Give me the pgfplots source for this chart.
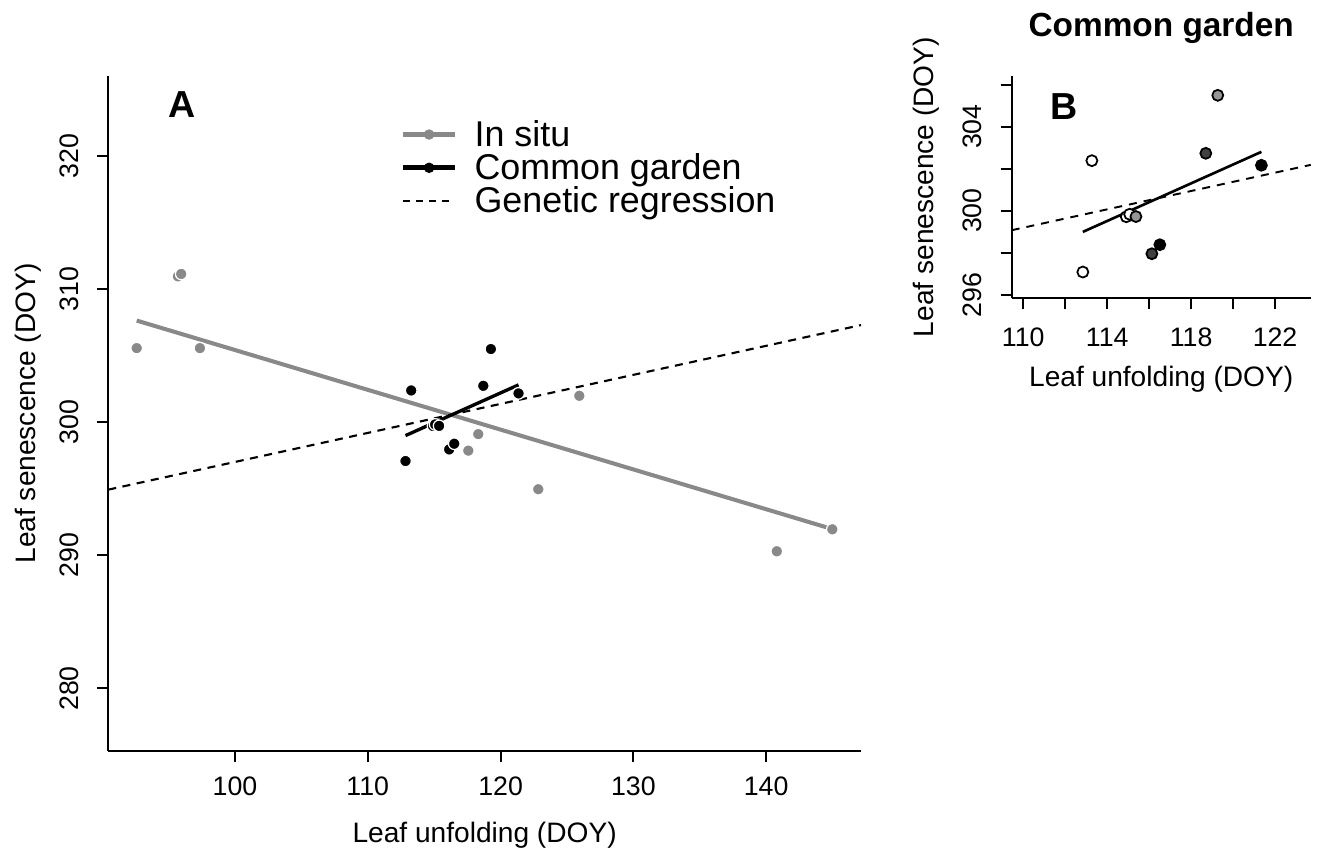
\documentclass[border=0pt]{standalone}
\usepackage{pgfplots}
\pgfplotsset{compat=1.18}
\usepackage{pgfplotstable}
\usepackage{fontspec}
\setmainfont{Liberation Sans}

\definecolor{insitu}{RGB}{137,137,137}
\definecolor{cgmid}{RGB}{150,150,150}
\definecolor{cgdark}{RGB}{64,64,64}

\newcommand{\tickfont}{\fontsize{7.6}{9}\selectfont}
\newcommand{\labfont}{\fontsize{8}{9.6}\selectfont}

% in situ populations
\pgfplotstableread{
x y
92.60 305.56
95.70 310.95
95.95 311.13
97.36 305.56
117.57 297.86
118.32 299.10
122.84 294.96
125.93 301.98
140.80 290.30
144.98 291.95
}\insitutab

% common garden, c = fill class of panel B
\pgfplotstableread{
x y c
112.84 297.08 w
113.27 302.38 w
114.91 299.71 w
115.07 299.83 w
115.37 299.72 m
116.13 297.95 d
116.51 298.38 b
118.70 302.73 d
119.27 305.49 m
121.35 302.16 b
}\gardentab

\pgfplotsset{
  rstyle/.style={
    scale only axis,
    axis x line*=bottom, axis y line*=left,
    axis line style={-, line width=0.55pt},
    tick align=outside, major tick length=0.11cm,
    tick style={line width=0.55pt, black},
    ticklabel style={font=\tickfont},
    label style={font=\labfont},
    /pgf/number format/assume math mode=true,
    xticklabel style={anchor=north, inner sep=0pt},
    yticklabel style={rotate=90, anchor=south, inner sep=0pt},
    yticklabel shift=0.18cm,
    clip=false,
  }
}

\begin{document}
\begin{tikzpicture}
\path (0,0) rectangle (13.2,8.5);

\begin{axis}[rstyle,
  at={(1.083cm,0.99cm)}, anchor=south west,
  width=7.527cm, height=6.75cm,
  xmin=90.46, xmax=147.14, ymin=275.3, ymax=326.0,
  xtick={100,110,...,140}, ytick={280,290,...,320},
  xticklabel shift=0.14cm,
  xlabel={Leaf unfolding (DOY)}, ylabel={Leaf senescence (DOY)},
  x label style={at={(axis description cs:0.5,-0.1244)}, anchor=center},
  y label style={at={(axis description cs:-0.107,0.5)}, anchor=center},
  legend style={draw=none, fill=none, at={(0.3875,0.933)}, anchor=north west,
    inner sep=0pt, row sep=0pt, font=\fontsize{10.2}{12}\selectfont,
    nodes={inner sep=0pt, text height=0.245cm, text depth=0.0875cm},
    /tikz/every odd column/.append style={column sep=0.17cm}},
  legend cell align=left,
]
\addlegendimage{legend image code/.code={
  \draw[insitu, line width=1.4pt] (0cm,0.04cm) -- (0.52cm,0.04cm);
  \fill[insitu] (0.26cm,0.04cm) circle (0.045cm);}}
\addlegendentry{In situ}
\addlegendimage{legend image code/.code={
  \draw[black, line width=1.4pt] (0cm,0.04cm) -- (0.52cm,0.04cm);
  \fill[black] (0.26cm,0.04cm) circle (0.045cm);}}
\addlegendentry{Common garden}
\addlegendimage{legend image code/.code={
  \draw[black, line width=0.5pt, dash pattern=on 0.07cm off 0.06cm] (0cm,0.04cm) -- (0.52cm,0.04cm);}}
\addlegendentry{Genetic regression}

\addplot[insitu, line width=1.15pt, forget plot] coordinates {(92.60,307.63) (144.98,291.97)};
\addplot[black, line width=0.6pt, dash pattern=on 0.08cm off 0.065cm, forget plot]
  coordinates {(90.46,294.93) (147.14,307.29)};
\addplot[only marks, mark=*, mark size=0.058cm, forget plot,
  mark options={fill=insitu, draw=white, line width=0.35pt}] table[x=x,y=y] {\insitutab};
\addplot[only marks, mark=*, mark size=0.058cm, forget plot,
  mark options={fill=black, draw=white, line width=0.35pt}] table[x=x,y=y] {\gardentab};
\addplot[black, line width=0.95pt, forget plot] coordinates {(112.84,298.99) (121.35,302.80)};

\node[font=\fontsize{10.7}{12}\selectfont\bfseries] at (rel axis cs:0.098,0.957) {A};
\end{axis}

\begin{axis}[rstyle,
  at={(10.117cm,5.517cm)}, anchor=south west,
  width=2.99cm, height=2.223cm,
  xmin=109.45, xmax=123.7, ymin=295.83, ymax=306.41,
  xtick={110,112,...,122}, xticklabels={110,,114,,118,,122},
  ytick={296,298,...,306}, yticklabels={296,,300,,304,},
  xticklabel shift=0.18cm,
  xlabel={Leaf unfolding (DOY)}, ylabel={Leaf senescence (DOY)},
  x label style={at={(axis description cs:0.5,-0.363)}, anchor=center},
  y label style={at={(axis description cs:-0.2876,0.5)}, anchor=center},
]
\addplot[black, line width=0.55pt, dash pattern=on 0.08cm off 0.07cm]
  coordinates {(109.45,299.07) (123.7,302.18)};
\addplot[black, line width=0.75pt] coordinates {(112.84,298.99) (121.35,302.80)};
\addplot[scatter, only marks, scatter src=explicit symbolic, mark size=0.055cm,
  scatter/classes={
    w={mark=*, draw=black, fill=white, line width=0.5pt},
    m={mark=*, draw=black, fill=cgmid, line width=0.5pt},
    d={mark=*, draw=black, fill=cgdark, line width=0.5pt},
    b={mark=*, draw=black, fill=black, line width=0.5pt}}]
  table[x=x,y=y,meta=c] {\gardentab};
\node[font=\fontsize{10.7}{12}\selectfont\bfseries] at (rel axis cs:0.176,0.862) {B};
\node[font=\fontsize{9.5}{11}\selectfont\bfseries] at (rel axis cs:0.5,1.216) {Common garden};
\end{axis}
\end{tikzpicture}
\end{document}
